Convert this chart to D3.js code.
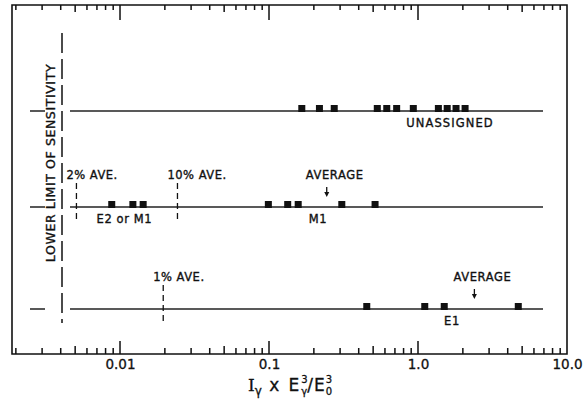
<!DOCTYPE html>
<html>
<head>
<meta charset="utf-8">
<script src="https://cdn.jsdelivr.net/npm/d3@7"></script>
<style>
  body { margin: 0; background: #fff; }
  text { font-family: "DejaVu Sans", sans-serif; fill: #111; }
</style>
</head>
<body>
<svg id="chart"></svg>
<script>
// datos
const rows = ["UNASSIGNED", "M1", "E1"];
const unassignedValues = [0.166, 0.218, 0.274, 0.533, 0.617, 0.719, 0.93, 1.37, 1.57, 1.80, 2.07];
const m1Values = [0.0088, 0.0122, 0.0143, 0.099, 0.1335, 0.157, 0.308, 0.515];
const e1Values = [0.453, 1.11, 1.50, 4.71];
const averages = [
  { row: "M1", value: 0.244 },
  { row: "E1", value: 2.39 }
];
const percentAverages = [
  { row: "M1", value: 0.0051, label: "2% AVE." },
  { row: "M1", value: 0.0243, label: "10% AVE." },
  { row: "E1", value: 0.0195, label: "1% AVE." }
];
const rowLabels = [
  { row: "UNASSIGNED", value: 1.64, label: "UNASSIGNED" },
  { row: "M1", value: 0.0107, label: "E2 or M1" },
  { row: "M1", value: 0.213, label: "M1" },
  { row: "E1", value: 1.69, label: "E1" }
];
const majorTicks = [0.01, 0.1, 1, 10];
const tickLabels = ["0.01", "0.1", "1.0", "10.0"];

// configuracion
const chartW = 586, chartH = 400;
const frameLeft = 12, frameRight = 567, frameTop = 5, frameBottom = 354;

const svg = d3.select("#chart").attr("width", chartW).attr("height", chartH);

const x = d3.scaleLog().domain([0.001884, 10]).range([frameLeft, frameRight]);
const y = d3.scaleOrdinal().domain(rows).range([111, 207, 309]);

const points = [
  ...unassignedValues.map(v => ({ row: "UNASSIGNED", value: v })),
  ...m1Values.map(v => ({ row: "M1", value: v })),
  ...e1Values.map(v => ({ row: "E1", value: v }))
];

// marcas del eje como un solo path (arriba y abajo)
const allTicks = x.ticks(40).filter(t => t > x.domain()[0] && t < 10);
const isFive = t => Math.round(t / Math.pow(10, Math.floor(Math.log10(t) + 1e-9))) === 5;
const tickLen = t => majorTicks.some(m => Math.abs(m - t) < 1e-9) ? [13, 15] : isFive(t) ? [8, 7] : [6, 5];
let tickPath = "";
allTicks.forEach(t => {
  const px = x(t), [lb, lt] = tickLen(t);
  tickPath += `M${px},${frameBottom}V${frameBottom - lb}M${px},${frameTop}V${frameTop + lt}`;
});
svg.append("path")
  .attr("d", tickPath)
  .attr("fill", "none").attr("stroke", "#111").attr("stroke-width", 1.5);

// marco
svg.append("path")
  .attr("d", `M${frameLeft},${frameTop}H${frameRight}V${frameBottom}H${frameLeft}Z`)
  .attr("fill", "none").attr("stroke", "#111").attr("stroke-width", 1.6);

// eje x: etiquetas
const xAxis = svg.append("g")
  .attr("transform", `translate(0,${frameBottom})`)
  .call(d3.axisBottom(x).tickValues(majorTicks).tickSize(0).tickPadding(5)
    .tickFormat((d, i) => tickLabels[i]));
xAxis.select(".domain").remove();
xAxis.selectAll("text").attr("font-size", 13.5).attr("fill", "#111")
  .attr("font-family", "DejaVu Sans").attr("stroke", "#111").attr("stroke-width", 0.3);

// titulo eje x
const title = svg.append("text")
  .attr("x", 290).attr("y", 391)
  .attr("text-anchor", "middle")
  .attr("font-size", 17)
  .attr("stroke", "#111").attr("stroke-width", 0.3);
title.append("tspan").attr("font-family", "DejaVu Serif").text("I");
title.append("tspan").attr("font-size", 12).attr("dy", 4).text("γ");
title.append("tspan").attr("dy", -4).attr("letter-spacing", 2).text(" x E");
title.append("tspan").attr("font-size", 10).attr("dy", -8).text("3");
title.append("tspan").attr("font-size", 10).attr("dx", -6.4).attr("dy", 12).text("γ");
title.append("tspan").attr("dy", -4).attr("letter-spacing", 1).text("/E");
title.append("tspan").attr("font-size", 10).attr("dy", -8).text("3");
title.append("tspan").attr("font-size", 10).attr("dx", -6.4).attr("dy", 12).text("0");

// limite inferior de sensibilidad
svg.append("line")
  .attr("x1", 62).attr("x2", 62).attr("y1", 33).attr("y2", 323)
  .attr("stroke", "#111").attr("stroke-width", 1.5)
  .attr("stroke-dasharray", "20,6");
svg.append("text")
  .attr("transform", "translate(55,163) rotate(-90)")
  .attr("text-anchor", "middle")
  .attr("font-size", 12.5)
  .attr("letter-spacing", 0.6)
  .attr("stroke", "#111").attr("stroke-width", 0.35)
  .text("LOWER LIMIT OF SENSITIVITY");

svg.selectAll(".stub")
  .data(rows).enter().append("line")
  .attr("class", "stub")
  .attr("x1", 30).attr("x2", 45)
  .attr("y1", d => y(d)).attr("y2", d => y(d))
  .attr("stroke", "#111").attr("stroke-width", 1.4);

// lineas de filas
svg.selectAll(".row-line")
  .data(rows).enter().append("line")
  .attr("class", "row-line")
  .attr("x1", 70).attr("x2", 543)
  .attr("y1", d => y(d)).attr("y2", d => y(d))
  .attr("stroke", "#222").attr("stroke-width", 1.3);

// lineas de promedio porcentual
svg.selectAll(".pct")
  .data(percentAverages).enter().append("line")
  .attr("class", "pct")
  .attr("x1", d => x(d.value)).attr("x2", d => x(d.value))
  .attr("y1", d => y(d.row) - 24).attr("y2", d => y(d.row) + 16)
  .attr("stroke", "#111").attr("stroke-width", 1.3)
  .attr("stroke-dasharray", "6,4");
svg.selectAll(".pct-label")
  .data(percentAverages).enter().append("text")
  .attr("class", "pct-label")
  .attr("x", d => x(d.value) - 10)
  .attr("y", d => y(d.row) - 28)
  .attr("font-size", 11.5).attr("letter-spacing", 0.5)
  .attr("stroke", "#111").attr("stroke-width", 0.35)
  .text(d => d.label);

// cuadrados
const s = 7;
svg.selectAll(".pt")
  .data(points).enter().append("rect")
  .attr("class", "pt")
  .attr("x", d => x(d.value) - s / 2)
  .attr("y", d => y(d.row) - s + 1)
  .attr("width", s).attr("height", s)
  .attr("fill", "#111");

// flechas de promedio
svg.selectAll(".avg-line")
  .data(averages).enter().append("line")
  .attr("class", "avg-line")
  .attr("x1", d => x(d.value)).attr("x2", d => x(d.value))
  .attr("y1", d => y(d.row) - 20).attr("y2", d => y(d.row) - 14)
  .attr("stroke", "#111").attr("stroke-width", 1.3);
svg.selectAll(".avg-head")
  .data(averages).enter().append("path")
  .attr("class", "avg-head")
  .attr("d", d => {
    const cx = x(d.value), ty = y(d.row) - 10;
    return `M${cx - 2.5},${ty - 5}L${cx + 2.5},${ty - 5}L${cx},${ty}Z`;
  })
  .attr("fill", "#111");
svg.selectAll(".avg-label")
  .data(averages).enter().append("text")
  .attr("class", "avg-label")
  .attr("x", d => x(d.value) + 8)
  .attr("y", d => y(d.row) - 28)
  .attr("text-anchor", "middle")
  .attr("font-size", 11.5).attr("letter-spacing", 0.6)
  .attr("stroke", "#111").attr("stroke-width", 0.35)
  .text("AVERAGE");

// etiquetas de filas
svg.selectAll(".row-label")
  .data(rowLabels).enter().append("text")
  .attr("class", "row-label")
  .attr("x", d => x(d.value))
  .attr("y", d => y(d.row) + 16)
  .attr("text-anchor", "middle")
  .attr("font-size", 11.5).attr("letter-spacing", d => d.row === "UNASSIGNED" ? 1.1 : 0.6)
  .attr("stroke", "#111").attr("stroke-width", 0.35)
  .text(d => d.label);
</script>
</body>
</html>
